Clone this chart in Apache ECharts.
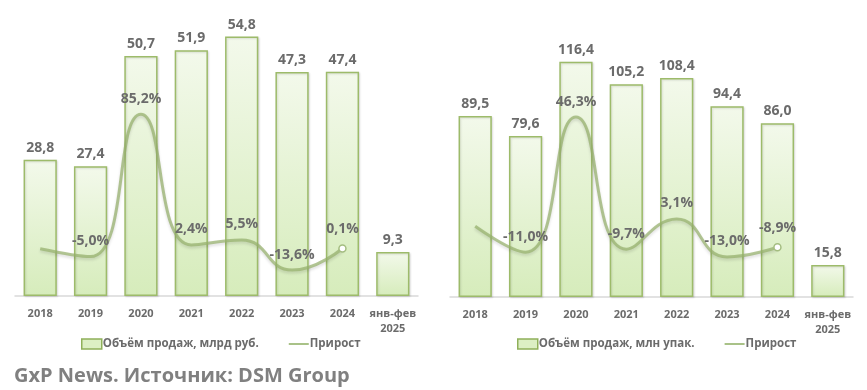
<!DOCTYPE html>
<html>
<head>
<meta charset="utf-8">
<script src="https://cdn.jsdelivr.net/npm/echarts@6/dist/echarts.min.js"></script>
<style>html,body{margin:0;padding:0;background:#fff}#c{width:867px;height:390px}</style>
</head>
<body>
<div id="c"></div>
<script>
var categories = ['2018','2019','2020','2021','2022','2023','2024','янв-фев\n2025'];
var salesRub = [28.8, 27.4, 50.7, 51.9, 54.8, 47.3, 47.4, 9.3];
var growthRub = [0, -5.0, 85.2, 2.4, 5.5, -13.6, 0.1, null];
var salesPack = [89.5, 79.6, 116.4, 105.2, 108.4, 94.4, 86.0, 15.8];
var growthPack = [0, -11.0, 46.3, -9.7, 3.1, -13.0, -8.9, null];
var nameRub = 'Объём продаж, млрд руб.';
var namePack = 'Объём продаж, млн упак.';
var nameGrowth = 'Прирост';
var footer = 'GxP News. Источник: DSM Group';

var FONT = '"Open Sans", "Noto Sans", sans-serif';
var TXT = '#6b6b6b';
var barFill = new echarts.graphic.LinearGradient(0,0,0,1,[{offset:0,color:'#f3f9eb'},{offset:1,color:'#d6ecbb'}]);
var barBorder = '#9dbb6a';
var lineColor = 'rgba(150,176,108,0.72)';

function fmtNum(v){ return v.toFixed(1).replace('.', ','); }
function growthData(arr){
  var last = -1;
  arr.forEach(function(v,i){ if (v !== null) last = i; });
  return arr.map(function(v,i){
    if (v === null) return null;
    var isLast = i === last;
    return {
      value: v,
      symbol: 'circle',
      symbolSize: isLast ? 7 : 1,
      itemStyle: isLast ? {} : { color: 'rgba(0,0,0,0)', borderColor: 'rgba(0,0,0,0)', borderWidth: 0 },
      label: { show: i !== 0 }
    };
  });
}
function barSeries(name, data, idx){
  return {
    type:'bar', name:name, data:data, xAxisIndex:idx, yAxisIndex:idx*2,
    barWidth:'66%',
    itemStyle:{ color:barFill, borderColor:barBorder, borderWidth:1.5,
      shadowColor:'rgba(0,0,0,0.12)', shadowBlur:2, shadowOffsetX:1, shadowOffsetY:1 },
    label:{ show:true, position:'top', distance:5, color:TXT, fontFamily:FONT, fontSize:14, fontWeight:'bold',
      formatter:function(p){ return fmtNum(p.value); } },
    emphasis:{ disabled:true }
  };
}
function lineSeries(data, idx){
  return {
    type:'line', name:nameGrowth, data:growthData(data), xAxisIndex:idx, yAxisIndex:idx*2+1,
    smooth:0.5, z:5, showSymbol:true, showAllSymbol:true,
    lineStyle:{ color:lineColor, width:3, shadowColor:'rgba(0,0,0,0.18)', shadowBlur:3, shadowOffsetY:2 },
    itemStyle:{ color:'#ffffff', borderColor:'#a4bd80', borderWidth:1.5 },
    label:{ show:true, position:'top', distance:8, color:TXT, fontFamily:FONT, fontSize:14, fontWeight:'bold',
      formatter:function(p){ return fmtNum(p.value) + '%'; } },
    emphasis:{ disabled:true }
  };
}
function xAxis(idx){
  return {
    type:'category', data:categories, gridIndex:idx,
    axisLine:{ lineStyle:{ color:'#d9d9d9', width:1.5 } },
    axisTick:{ show:false },
    axisLabel:{ color:TXT, fontFamily:FONT, fontSize:11, fontWeight:'bold', margin:10, lineHeight:15, interval:0 }
  };
}
function yAxis(idx, min, max){
  return { type:'value', gridIndex:idx, min:min, max:max, show:false, splitLine:{show:false} };
}
function legend(left, name){
  return {
    left:left, top:333, itemWidth:20, itemHeight:10, itemGap:30,
    textStyle:{ color:TXT, fontFamily:FONT, fontSize:11.5, fontWeight:'bold', padding:[0,0,0,-4] },
    data:[
      { name:name, icon:'rect', itemStyle:{ color:'#dcefc4', borderColor:'#8fb05a', borderWidth:1.5 } },
      { name:nameGrowth, icon:'path://M0,0 L20,0 L20,2 L0,2 Z', itemStyle:{ color:'#a9c288', borderWidth:0 } }
    ]
  };
}

var chart = echarts.init(document.getElementById('c'), null, {renderer:'canvas'});
chart.setOption({
  animation:false,
  backgroundColor:'#ffffff',
  title:{ text:footer, left:9, top:361, textStyle:{ color:'#808080', fontFamily:FONT, fontSize:20, fontWeight:'bold' } },
  grid:[
    { left:15, right:449, top:12, bottom:94 },
    { left:450, right:14, top:14, bottom:93 }
  ],
  xAxis:[ xAxis(0), xAxis(1) ],
  yAxis:[ yAxis(0,0,60), yAxis(0,-30,150), yAxis(1,0,140), yAxis(1,-30,90) ],
  legend:[ legend(76, nameRub), legend(512, namePack) ],
  series:[
    barSeries(nameRub, salesRub, 0),
    lineSeries(growthRub, 0),
    barSeries(namePack, salesPack, 1),
    lineSeries(growthPack, 1)
  ]
});
</script>
</body>
</html>
